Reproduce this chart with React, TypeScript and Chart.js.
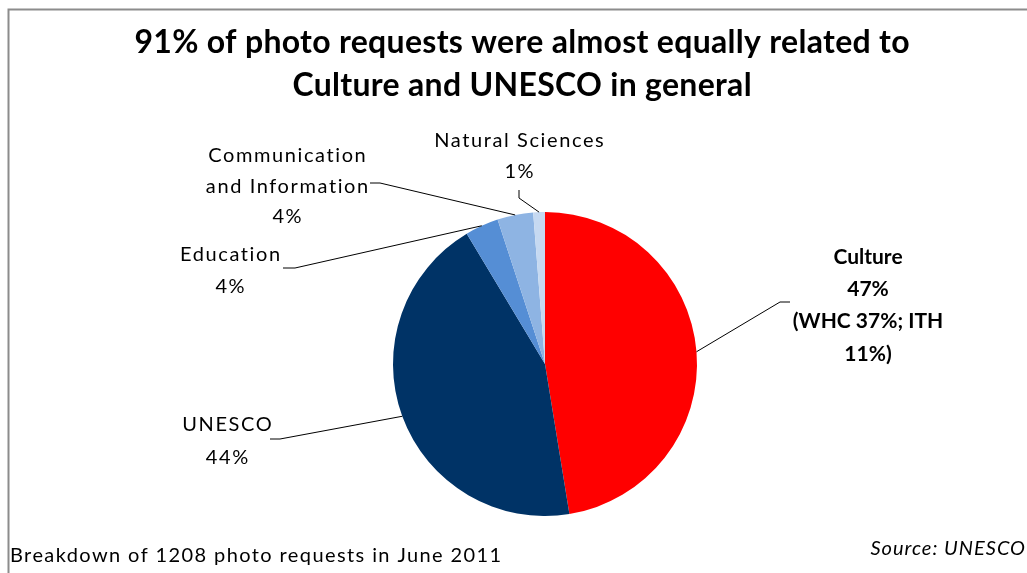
import React, { useEffect, useRef } from 'react';
import { Chart, registerables } from 'chart.js';

Chart.register(...registerables);

// ---- data ----
const categories = ['Culture', 'UNESCO', 'Education', 'Communication and Information', 'Natural Sciences'];
const requestCounts = [573, 531, 43, 46, 15];
const percentLabels = ['47%', '44%', '4%', '4%', '1%'];
const labelNameLines = [
  ['Culture'],
  ['UNESCO'],
  ['Education'],
  ['Communication', 'and Information'],
  ['Natural Sciences'],
];
const labelExtraLines = [['(WHC 37%; ITH', '11%)'], [], [], [], []];
const sliceColors = ['#FF0000', '#003366', '#558ED5', '#8EB4E3', '#C6D9F1'];
const titleLines = ['91% of photo requests were almost equally related to', 'Culture and UNESCO in general'];
const footnote = 'Breakdown of 1208 photo requests in June 2011';
const sourceNote = 'Source: UNESCO';

// ---- label layout (positions for outside labels) ----
const labelLayout = [
  { x: 868, y: 257, lh: 32.3, bold: true, anchor: [[790, 302], [780, 302]] },
  { x: 227, y: 425, lh: 33, bold: false, anchor: [[270, 439], [280, 439]] },
  { x: 230, y: 255, lh: 32, bold: false, anchor: [[283, 268], [295, 268]] },
  { x: 287, y: 156, lh: 30.5, bold: false, anchor: [[370, 183], [380, 183]] },
  { x: 519, y: 141, lh: 31, bold: false, anchor: [[519, 190], [519, 198]] },
];

const FONT = 'Lato';

function drawSpaced(ctx: any, text: string, x: number, y: number, spacing: number, align: string) {
  ctx.letterSpacing = `${spacing}px`;
  const w = ctx.measureText(text).width - spacing;
  let sx = x;
  if (align === 'center') sx = x - w / 2;
  else if (align === 'right') sx = x - w;
  ctx.textAlign = 'left';
  ctx.fillText(text, sx, y);
  ctx.letterSpacing = '0px';
}

const overlayPlugin = {
  id: 'overlay',
  afterDraw(chart: any) {
    const ctx = chart.ctx as any;
    ctx.save();
    // frame
    ctx.strokeStyle = '#8c8c8c';
    ctx.lineWidth = 2;
    ctx.beginPath();
    ctx.moveTo(8.5, 573);
    ctx.lineTo(8.5, 9.5);
    ctx.lineTo(1027, 9.5);
    ctx.stroke();

    // title
    ctx.fillStyle = '#000';
    ctx.textBaseline = 'middle';
    ctx.font = `bold 32px ${FONT}`;
    drawSpaced(ctx, titleLines[0], 522, 43, 0.3, 'center');
    drawSpaced(ctx, titleLines[1], 522, 86, 0.3, 'center');

    // labels + leader lines
    const meta = chart.getDatasetMeta(0);
    meta.data.forEach((arc: any, i: number) => {
      const p = arc.getProps(['x', 'y', 'startAngle', 'endAngle', 'outerRadius'], true);
      const mid = (p.startAngle + p.endAngle) / 2;
      const ex = p.x + Math.cos(mid) * p.outerRadius;
      const ey = p.y + Math.sin(mid) * p.outerRadius;
      const L = labelLayout[i];
      ctx.strokeStyle = '#000';
      ctx.lineWidth = 1;
      ctx.beginPath();
      ctx.moveTo(L.anchor[0][0], L.anchor[0][1]);
      ctx.lineTo(L.anchor[1][0], L.anchor[1][1]);
      ctx.lineTo(ex, ey);
      ctx.stroke();

      const lines = [...labelNameLines[i], percentLabels[i], ...labelExtraLines[i]];
      ctx.font = L.bold ? `bold 21px ${FONT}` : `20px ${FONT}`;
      ctx.fillStyle = '#000';
      lines.forEach((t, k) => drawSpaced(ctx, t, L.x, L.y + k * L.lh, L.bold ? 0 : 1.6, 'center'));
    });

    // footer
    ctx.font = `20px ${FONT}`;
    drawSpaced(ctx, footnote, 10, 556, 1.4, 'left');
    ctx.font = `italic 20px ${FONT}`;
    drawSpaced(ctx, sourceNote, 1025, 549, 1.0, 'right');
    ctx.restore();
  },
};

export default function App() {
  const ref = useRef<HTMLCanvasElement>(null);
  useEffect(() => {
    document.body.style.margin = '0';
    const chart = new Chart(ref.current as HTMLCanvasElement, {
      type: 'pie',
      data: {
        labels: categories,
        datasets: [
          {
            data: requestCounts,
            backgroundColor: sliceColors,
            borderWidth: 0,
          },
        ],
      },
      options: {
        responsive: false,
        animation: false,
        layout: { padding: { left: 393, right: 330, top: 212, bottom: 57 } },
        plugins: {
          legend: { display: false },
          tooltip: { enabled: false },
          title: { display: false },
        },
      },
      plugins: [overlayPlugin],
    });
    return () => chart.destroy();
  }, []);
  return <canvas ref={ref} width={1027} height={573} style={{ display: 'block' }} />;
}
